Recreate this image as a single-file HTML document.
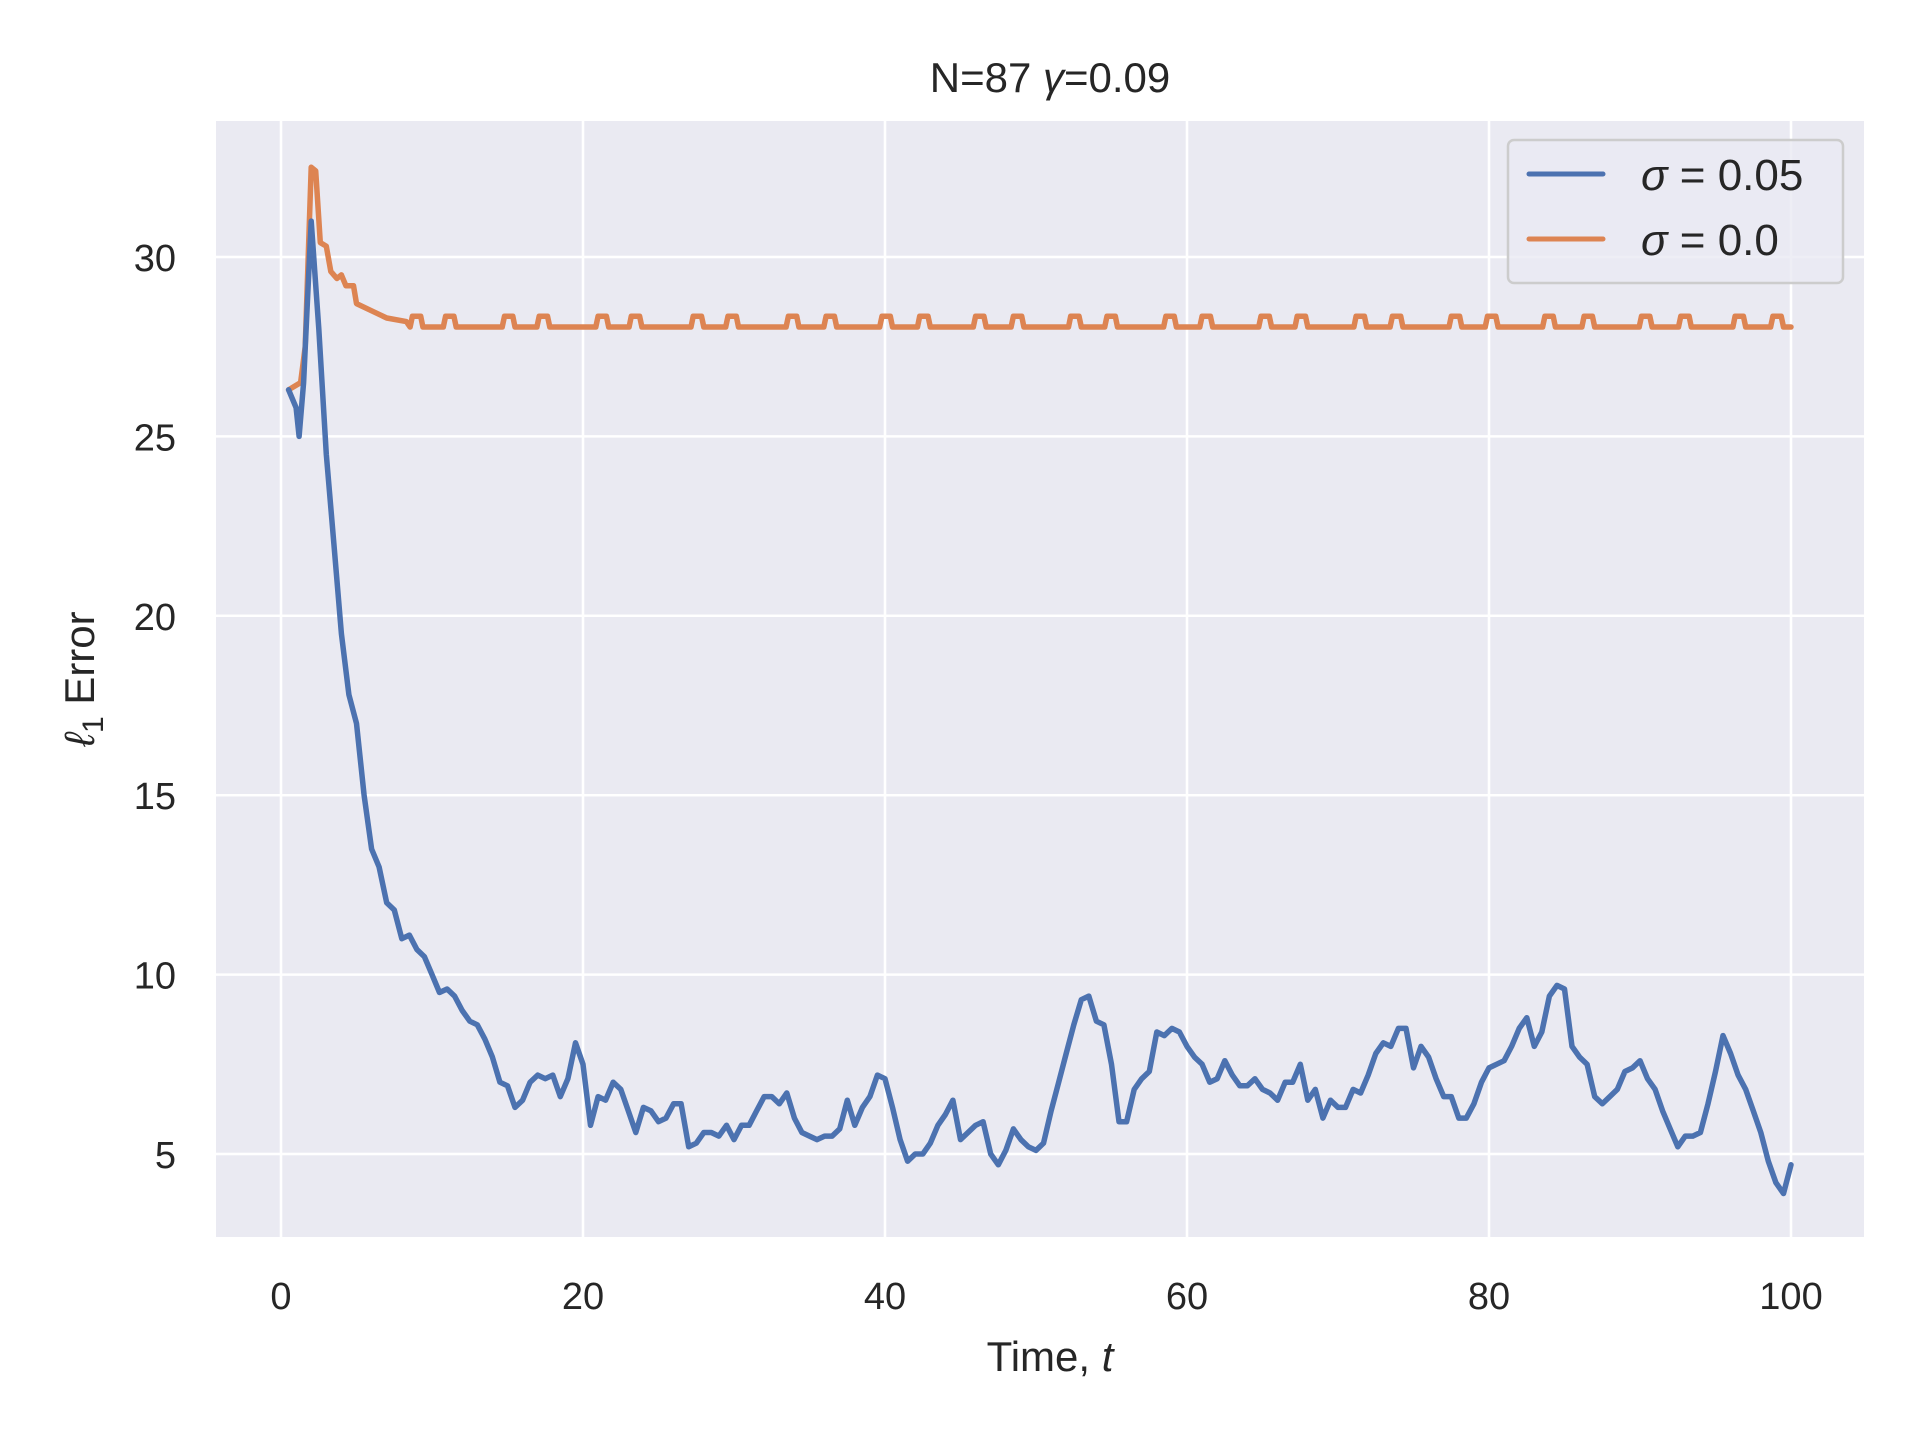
<!DOCTYPE html>
<html><head><meta charset="utf-8"><style>
html,body{margin:0;padding:0;background:#fff;}
svg{display:block;font-family:"Liberation Sans","DejaVu Sans",sans-serif;}
</style></head><body>
<svg id="chart" width="1920" height="1440" viewBox="0 0 1920 1440">
<rect x="0" y="0" width="1920" height="1440" fill="#ffffff"/>
<rect x="216" y="121" width="1648" height="1116" fill="#eaeaf2"/>
<g id="grid"></g>
<g id="ticks"></g>
<g id="series"></g>
<text x="1050" y="92" font-size="42" text-anchor="middle" fill="#262626">N=87 <tspan font-style="italic">γ</tspan>=0.09</text>
<text x="1050" y="1371" font-size="42" text-anchor="middle" fill="#262626">Time, <tspan font-style="italic">t</tspan></text>
<text transform="translate(94,679) rotate(-90)" font-size="42" text-anchor="middle" fill="#262626"><tspan font-style="italic">ℓ</tspan><tspan font-size="30" dy="9">1</tspan><tspan dy="-9"> Error</tspan></text>
<g>
<rect x="1508" y="140" width="335" height="143" rx="6" fill="#eaeaf2" fill-opacity="0.8" stroke="#cccccc" stroke-width="2.5"/>
<line x1="1529" y1="174" x2="1603" y2="174" stroke="#4c72b0" stroke-width="5" stroke-linecap="round"/>
<text x="1641" y="190" font-size="44" fill="#262626"><tspan font-style="italic">σ</tspan> = 0.05</text>
<line x1="1529" y1="239" x2="1603" y2="239" stroke="#dd8452" stroke-width="5" stroke-linecap="round"/>
<text x="1641" y="255" font-size="44" fill="#262626"><tspan font-style="italic">σ</tspan> = 0.0</text>
</g>
</svg>
<script>
const xTicks=[0,20,40,60,80,100];
const yTicks=[5,10,15,20,25,30];
const blueT=[0.5,1.0,1.2,1.5,2.0,2.5,3,3.5,4,4.5,5,5.5,6,6.5,7,7.5,8,8.5,9,9.5,10,10.5,11,11.5,12,12.5,13,13.5,14,14.5,15,15.5,16,16.5,17,17.5,18,18.5,19,19.5,20,20.5,21,21.5,22,22.5,23,23.5,24,24.5,25,25.5,26,26.5,27,27.5,28,28.5,29,29.5,30,30.5,31,31.5,32,32.5,33,33.5,34,34.5,35,35.5,36,36.5,37,37.5,38,38.5,39,39.5,40,40.5,41,41.5,42,42.5,43,43.5,44,44.5,45,45.5,46,46.5,47,47.5,48,48.5,49,49.5,50,50.5,51,51.5,52,52.5,53,53.5,54,54.5,55,55.5,56,56.5,57,57.5,58,58.5,59,59.5,60,60.5,61,61.5,62,62.5,63,63.5,64,64.5,65,65.5,66,66.5,67,67.5,68,68.5,69,69.5,70,70.5,71,71.5,72,72.5,73,73.5,74,74.5,75,75.5,76,76.5,77,77.5,78,78.5,79,79.5,80,80.5,81,81.5,82,82.5,83,83.5,84,84.5,85,85.5,86,86.5,87,87.5,88,88.5,89,89.5,90,90.5,91,91.5,92,92.5,93,93.5,94,94.5,95,95.5,96,96.5,97,97.5,98,98.5,99,99.5,100];
const blueV=[26.3,25.8,25.0,26.5,31.0,28,24.5,22,19.5,17.8,17,15,13.5,13,12,11.8,11,11.1,10.7,10.5,10,9.5,9.6,9.4,9,8.7,8.6,8.2,7.7,7,6.9,6.3,6.5,7.0,7.2,7.1,7.2,6.6,7.1,8.1,7.5,5.8,6.6,6.5,7.0,6.8,6.2,5.6,6.3,6.2,5.9,6.0,6.4,6.4,5.2,5.3,5.6,5.6,5.5,5.8,5.4,5.8,5.8,6.2,6.6,6.6,6.4,6.7,6.0,5.6,5.5,5.4,5.5,5.5,5.7,6.5,5.8,6.3,6.6,7.2,7.1,6.3,5.4,4.8,5.0,5.0,5.3,5.8,6.1,6.5,5.4,5.6,5.8,5.9,5.0,4.7,5.1,5.7,5.4,5.2,5.1,5.3,6.2,7.0,7.8,8.6,9.3,9.4,8.7,8.6,7.5,5.9,5.9,6.8,7.1,7.3,8.4,8.3,8.5,8.4,8.0,7.7,7.5,7.0,7.1,7.6,7.2,6.9,6.9,7.1,6.8,6.7,6.5,7.0,7.0,7.5,6.5,6.8,6.0,6.5,6.3,6.3,6.8,6.7,7.2,7.8,8.1,8.0,8.5,8.5,7.4,8.0,7.7,7.1,6.6,6.6,6.0,6.0,6.4,7.0,7.4,7.5,7.6,8.0,8.5,8.8,8.0,8.4,9.4,9.7,9.6,8.0,7.7,7.5,6.6,6.4,6.6,6.8,7.3,7.4,7.6,7.1,6.8,6.2,5.7,5.2,5.5,5.5,5.6,6.4,7.3,8.3,7.8,7.2,6.8,6.2,5.6,4.8,4.2,3.9,4.7];
const orangeHeadT=[0.5,1.3,1.6,2.0,2.3,2.6,3.0,3.3,3.7,4.0,4.3,4.8,5.0,6,7,8.3];
const orangeHeadV=[26.3,26.5,27.5,32.5,32.4,30.4,30.3,29.6,29.4,29.5,29.2,29.2,28.7,28.5,28.3,28.2];
const orangeBumps=[8.9,11.1,15.0,17.3,21.2,23.4,27.5,29.8,33.8,36.3,40.0,42.5,46.2,48.7,52.5,54.9,58.8,61.2,65.1,67.5,71.4,73.8,77.7,80.1,83.9,86.5,90.3,92.9,96.5,99.0];
const orangeBase=28.05, orangeBumpTop=28.35, orangeEndT=100;

const X=t=>281+(t-0)*15.1;
const Y=v=>257+(30-v)*35.88;
const NS="http://www.w3.org/2000/svg";
const grid=document.getElementById('grid'),ticks=document.getElementById('ticks'),series=document.getElementById('series');
xTicks.forEach(t=>{
  const l=document.createElementNS(NS,'line');
  l.setAttribute('x1',X(t));l.setAttribute('x2',X(t));l.setAttribute('y1',121);l.setAttribute('y2',1237);
  l.setAttribute('stroke','#fff');l.setAttribute('stroke-width','2.5');
  
  
  grid.appendChild(l);
  const tx=document.createElementNS(NS,'text');
  tx.setAttribute('x',X(t));tx.setAttribute('y',1309);tx.setAttribute('font-size','38');
  tx.setAttribute('text-anchor','middle');tx.setAttribute('fill','#262626');tx.textContent=t;
  
  
  ticks.appendChild(tx);
});
yTicks.forEach(v=>{
  const l=document.createElementNS(NS,'line');
  l.setAttribute('x1',216);l.setAttribute('x2',1864);l.setAttribute('y1',Y(v));l.setAttribute('y2',Y(v));
  l.setAttribute('stroke','#fff');l.setAttribute('stroke-width','2.5');
  
  
  grid.appendChild(l);
  const tx=document.createElementNS(NS,'text');
  tx.setAttribute('x',176);tx.setAttribute('y',Y(v)+14);tx.setAttribute('font-size','38');
  tx.setAttribute('text-anchor','end');tx.setAttribute('fill','#262626');tx.textContent=v;
  
  
  ticks.appendChild(tx);
});
function path(ts,vs,color,name){
  const p=document.createElementNS(NS,'path');
  p.setAttribute('d',ts.map((t,i)=>(i?'L':'M')+X(t).toFixed(1)+','+Y(vs[i]).toFixed(1)).join(''));
  p.setAttribute('fill','none');p.setAttribute('stroke',color);p.setAttribute('stroke-width','5.5');
  p.setAttribute('stroke-linejoin','round');p.setAttribute('stroke-linecap','round');
  
  
  series.appendChild(p);
}
const oT=orangeHeadT.slice(), oV=orangeHeadV.slice();
orangeBumps.forEach(b=>{
  oT.push(b-0.35,b-0.2,b+0.35,b+0.5);oV.push(orangeBase,orangeBumpTop,orangeBumpTop,orangeBase);
});
oT.push(orangeEndT);oV.push(orangeBase);
path(oT,oV,'#dd8452','line-sigma-0');
path(blueT,blueV,'#4c72b0','line-sigma-005');
</script>
</body></html>
